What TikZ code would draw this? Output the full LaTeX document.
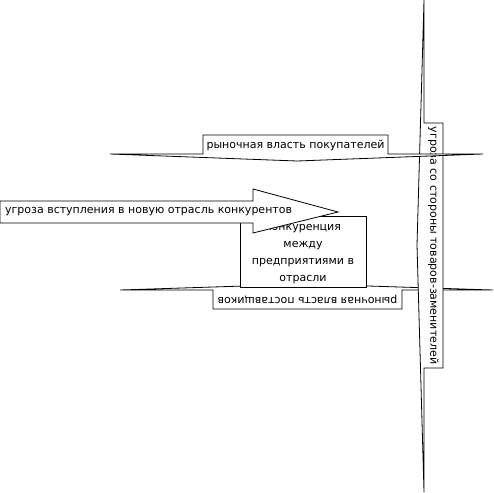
\documentclass[tikz,border=0pt]{standalone}
\usepackage{fontspec}
\setmainfont{DejaVu Sans}
\usetikzlibrary{calc}

\begin{document}
\begin{tikzpicture}[x=1pt,y=-1pt]
        \tikzset{force/.style={draw=black, fill=white, line width=0.8pt, line join=miter},
                 lbl/.style={inner sep=0pt, font=\fontsize{11}{17}\selectfont}}
        \useasboundingbox (0,0) rectangle (494,492);

        % supplier power
        \draw[force] (493,290) -- (402,290) -- (402,309) -- (213,309) -- (213,290) -- (120,290) -- (306,284) -- cycle;
        \node[lbl, rotate=180] (suppl) at (307.5,299.5) {рыночная власть поставщиков};

        % rivalry box
        \node[force, minimum width=126pt, minimum height=71pt, inner sep=0pt] (rival) at (303,251.5) {};
        \node[lbl, align=center, text width=124pt] (rivaltxt) at ($(rival.center)+(0,2.5)$)
            {конкуренция\\между\\предприятиями в\\отрасли};

        % substitutes
        \draw[force] (424,0) -- (424,123) -- (443,123) -- (443,368) -- (424,368) -- (424,492) -- (417,245) -- cycle;
        \node[lbl, rotate=-90] (subst) at (433.5,245.5) {угроза со стороны товаров-заменителей};

        % buyer power
        \draw[force] (110,154) -- (203,154) -- (203,135) -- (388,135) -- (388,154) -- (483,154) -- (297,161) -- cycle;
        \node[lbl] (buyer) at (295.5,145) {рыночная власть покупателей};

        % new entrants
        \draw[force] (0,201) -- (253,201) -- (253,189) -- (338,212) -- (253,233) -- (253,223) -- (0,223) -- cycle;
        \node[lbl, anchor=west] (entry) at (5,212) {угроза вступления в новую отрасль конкурентов};
\end{tikzpicture}
\end{document}
